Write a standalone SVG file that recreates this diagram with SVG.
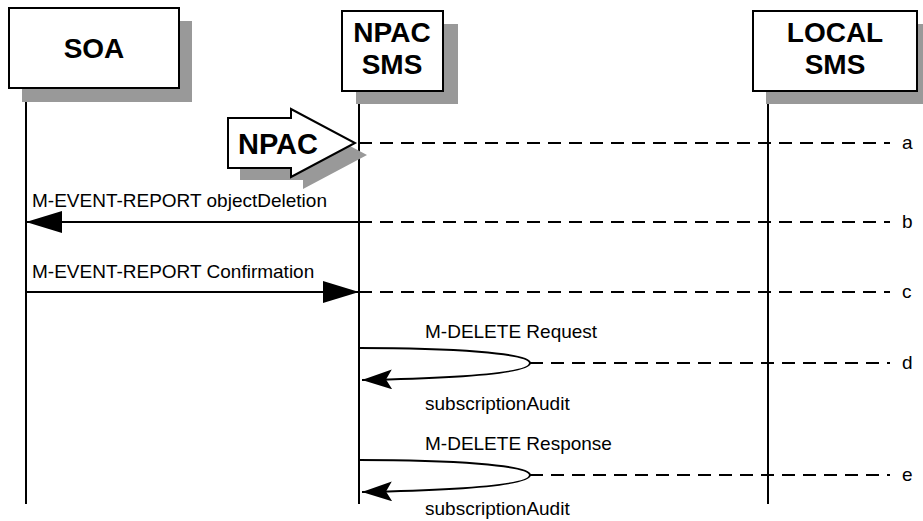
<svg xmlns="http://www.w3.org/2000/svg" width="923" height="521" viewBox="0 0 923 521">
<style>
.box{fill:#fff;stroke:#000;stroke-width:2}
.shadow{fill:#999;stroke:none}
.hdr{font-family:"Liberation Sans",Arial,sans-serif;font-weight:bold;font-size:28px;text-anchor:middle;fill:#000}
.lbl{font-family:"Liberation Sans",Arial,sans-serif;font-size:19px;fill:#000}
.life{stroke:#000;stroke-width:2;fill:none}
.dash{stroke:#000;stroke-width:2;stroke-dasharray:13 8;fill:none}
.msg{stroke:#000;stroke-width:2;fill:none}
</style>
<defs>
<marker id="ah" markerUnits="userSpaceOnUse" markerWidth="36" markerHeight="22" viewBox="0 0 36 22" refX="36" refY="11" orient="auto">
<path d="M0,0 L36,11 L0,22 z" fill="#000"/>
</marker>
<marker id="ahs" markerUnits="userSpaceOnUse" markerWidth="30" markerHeight="20" viewBox="0 0 30 20" refX="30" refY="10" orient="auto">
<path d="M0,0 L30,10 L0,20 L6,10 z" fill="#000"/>
</marker>
</defs>

<g id="soa">
<rect class="shadow" x="22" y="21" width="170" height="81"/>
<rect class="box" x="9" y="8" width="170" height="80"/>
<text class="hdr" x="94" y="58">SOA</text>
<line class="life" x1="26" y1="102" x2="26" y2="504"/>
</g>

<g id="npac">
<rect class="shadow" x="356" y="24" width="102" height="80"/>
<rect class="box" x="342" y="11" width="101" height="80"/>
<text class="hdr" x="392" y="42">NPAC</text>
<text class="hdr" x="392" y="74">SMS</text>
<line class="life" x1="359" y1="104" x2="359" y2="504"/>
</g>

<g id="local">
<rect class="shadow" x="766" y="24" width="164" height="80"/>
<rect class="box" x="753" y="11" width="164" height="80"/>
<text class="hdr" x="835" y="42">LOCAL</text>
<text class="hdr" x="835" y="74">SMS</text>
<line class="life" x1="768" y1="104" x2="768" y2="504"/>
</g>

<g id="npac-trigger">
<polygon class="shadow" points="240,130 303,130 303,121 367,155 303,189 303,180 240,180"/>
<polygon class="box" points="228,118 291,118 291,109 355,143 291,177 291,168 228,168"/>
<text class="hdr" x="278" y="154" style="font-size:29px">NPAC</text>
</g>

<g id="connectors">
<line class="dash" x1="359" y1="143" x2="890" y2="143"/>
<line class="msg" x1="359" y1="222" x2="26" y2="222" marker-end="url(#ah)"/>
<line class="dash" x1="359" y1="222" x2="890" y2="222"/>
<line class="msg" x1="26" y1="292" x2="359" y2="292" marker-end="url(#ah)"/>
<line class="dash" x1="359" y1="292" x2="890" y2="292"/>
<path class="msg" d="M359,348 C450,348 530,353 530,363 C530,373 460,378 362,380" marker-end="url(#ahs)"/>
<line class="dash" x1="530" y1="363" x2="890" y2="363"/>
<path class="msg" d="M359,460 C450,460 530,465 530,475 C530,485 460,490 362,492" marker-end="url(#ahs)"/>
<line class="dash" x1="530" y1="475" x2="890" y2="475"/>
</g>

<g id="labels">
<text class="lbl" x="32" y="207">M-EVENT-REPORT objectDeletion</text>
<text class="lbl" x="32" y="278">M-EVENT-REPORT Confirmation</text>
<text class="lbl" x="425" y="338">M-DELETE Request</text>
<text class="lbl" x="425" y="410">subscriptionAudit</text>
<text class="lbl" x="425" y="450">M-DELETE Response</text>
<text class="lbl" x="425" y="515">subscriptionAudit</text>
<text class="lbl" x="902" y="149">a</text>
<text class="lbl" x="902" y="228">b</text>
<text class="lbl" x="902" y="298">c</text>
<text class="lbl" x="902" y="369">d</text>
<text class="lbl" x="902" y="481">e</text>
</g>
</svg>
